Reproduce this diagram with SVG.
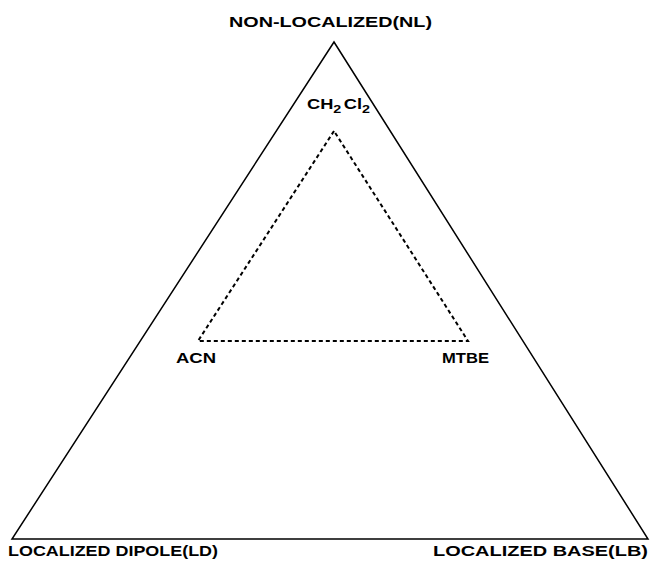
<svg xmlns="http://www.w3.org/2000/svg" width="651" height="564" viewBox="0 0 651 564">
<style>
text{font-family:"Liberation Sans",Arial,sans-serif;font-weight:bold;font-size:14px;fill:#000}
.outer{fill:none;stroke:#000;stroke-width:1.5}
.inner{fill:none;stroke:#000;stroke-width:2;stroke-dasharray:4,3}
</style>
<rect width="651" height="564" fill="#fff"/>
<g id="connectors">
<polygon class="outer" points="334,42 12,539 648,539"/>
<polygon class="inner" points="334,131 198,341 468,341"/>
</g>
<g id="NL"><text x="229" y="27" textLength="203" lengthAdjust="spacingAndGlyphs">NON-LOCALIZED(NL)</text></g>
<g id="CH2Cl2"><text x="307" y="109" textLength="63" lengthAdjust="spacingAndGlyphs">CH<tspan font-size="11" dy="4">2</tspan><tspan dy="-4" dx="2">Cl</tspan><tspan font-size="11" dy="4">2</tspan></text></g>
<g id="ACN"><text x="176" y="363" textLength="40" lengthAdjust="spacingAndGlyphs">ACN</text></g>
<g id="MTBE"><text x="442" y="363" textLength="47" lengthAdjust="spacingAndGlyphs">MTBE</text></g>
<g id="LD"><text x="8" y="556" textLength="210" lengthAdjust="spacingAndGlyphs">LOCALIZED DIPOLE(LD)</text></g>
<g id="LB"><text x="433" y="556" textLength="215" lengthAdjust="spacingAndGlyphs">LOCALIZED BASE(LB)</text></g>
</svg>
